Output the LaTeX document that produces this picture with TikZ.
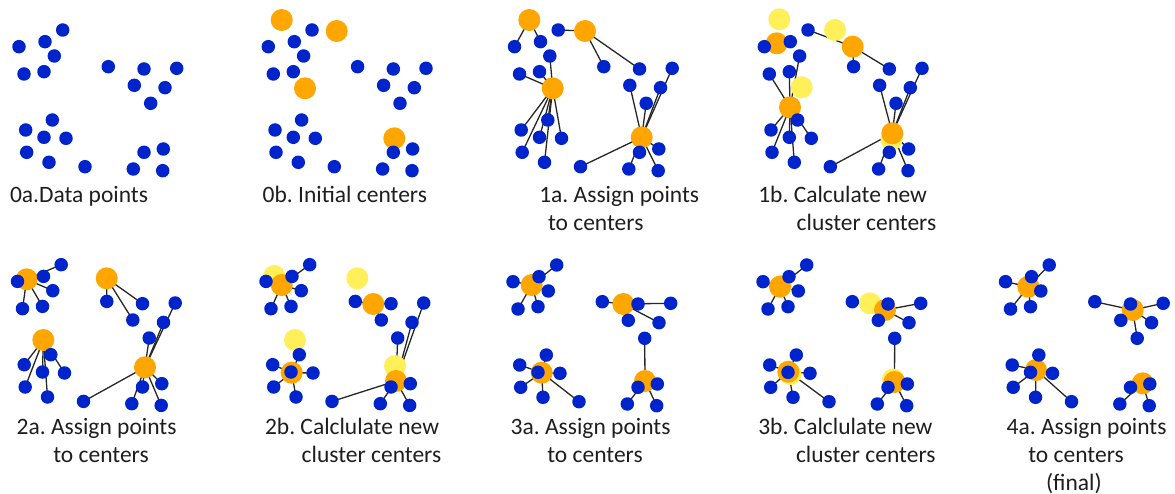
\documentclass[tikz,border=0pt]{standalone}
\usepackage{fontspec}
\setmainfont{Carlito}
\frenchspacing
\definecolor{dotblue}{RGB}{0,36,204}
\definecolor{ctrorange}{RGB}{255,166,0}
\definecolor{ctryellow}{RGB}{255,240,90}
\definecolor{txt}{RGB}{30,30,30}
\tikzset{
  dot/.style={circle,fill=dotblue,draw=none,minimum size=13.5pt,inner sep=0pt,outer sep=0pt},
  ctr/.style={circle,fill=ctrorange,draw=none,minimum size=22pt,inner sep=0pt,outer sep=0pt},
  oldctr/.style={circle,fill=ctryellow,draw=none,minimum size=22pt,inner sep=0pt,outer sep=0pt},
  link/.style={draw=black!85,line width=1.3pt},
  lbl/.style={anchor=base west,inner sep=0pt,outer sep=0pt,text=txt,font=\fontsize{23.5}{28}\selectfont}
}
% named points of one panel
\newcommand\Pts[3]{%
  \begin{scope}[shift={(#2,#3)}]
  \foreach \k/\px/\py in {1/62.7/30,2/45/41.7,3/19/46.7,4/54.3/56,5/24/74,6/44/71.7,
     7/108.3/66.7,8/144/69,9/176.7/68.3,10/134.3/85.3,11/165/87.7,12/150.7/103.3,
     13/52.3/120,14/25.7/130,15/44/137.3,16/66/138.3,17/26.7/152.3,18/49/162.3,19/85/166.7,
     20/144/152.3,21/163.3/149,22/133.3/169,23/162.7/170.7}{\coordinate (#1-\k) at (\px,\py);}
  \end{scope}}
\newcommand\Dots[1]{\foreach \k in {1,...,23}{\node[dot] (#1-d\k) at (#1-\k) {};}}
\newcommand\Links[3]{\foreach \k in {#3}{\draw[link] (#1-#2) -- (#1-\k);}}
\newcommand\Ctrs[3]{\foreach \c in {A,B,C,D}{\node[#3] (#1-#2\c) at (#1-#2\c) {};}}
\begin{document}
\begin{tikzpicture}[x=1pt,y=-1pt]
\useasboundingbox (0,0) rectangle (1175,494);

% ---- 0a
\Pts{pa}{0}{0}
\Dots{pa}
\node[lbl] (la) at (10,203) {0a.Data points};

% ---- 0b
\Pts{pb}{249.3}{0}
\begin{scope}[shift={(249.3,0)}]
\coordinate (pb-A) at (32.4,20); \coordinate (pb-B) at (87.4,31);
\coordinate (pb-C) at (55.7,88.3); \coordinate (pb-D) at (145,138.3);
\end{scope}
\Ctrs{pb}{}{ctr}
\Dots{pb}
\node[lbl] (lb) at (262.7,203) {0b. Initial centers};

% ---- 1a
\Pts{pc}{495.5}{0}
\begin{scope}[shift={(495.5,0)}]
\coordinate (pc-A) at (33.8,20); \coordinate (pc-B) at (89.5,31);
\coordinate (pc-C) at (57.2,88.3); \coordinate (pc-D) at (146.2,137.3);
\end{scope}
\Links{pc}{A}{2,3}
\Links{pc}{B}{1,7,8}
\Links{pc}{C}{4,5,6,13,14,15,16,17,18}
\Links{pc}{D}{9,10,11,12,19,20,21,22,23}
\Ctrs{pc}{}{ctr}
\Dots{pc}
\node[lbl] (lc1) at (539.3,203) {1a. Assign points};
\node[lbl] (lc2) at (548,231) {to centers};

% ---- 1b
\Pts{pd}{745.3}{0}
\begin{scope}[shift={(745.3,0)}]
\coordinate (pd-oA) at (34,19.3); \coordinate (pd-oB) at (89.7,30);
\coordinate (pd-oC) at (56.4,87.3); \coordinate (pd-oD) at (146.2,139.5);
\coordinate (pd-A) at (31.4,43.3); \coordinate (pd-B) at (107.4,46.7);
\coordinate (pd-C) at (44.7,107.3); \coordinate (pd-D) at (147,133.3);
\end{scope}
\Links{pd}{A}{2,3}
\Links{pd}{B}{1,7,8}
\Links{pd}{C}{4,5,6,13,14,15,16,17,18}
\Links{pd}{D}{9,10,11,12,19,20,21,22,23}
\Ctrs{pd}{o}{oldctr}
\Ctrs{pd}{}{ctr}
\Dots{pd}
\node[lbl] (ld1) at (758.3,203) {1b. Calculate new};
\node[lbl] (ld2) at (796.7,231) {cluster centers};

% ---- 2a
\Pts{pe}{-1.5}{234.7}
\begin{scope}[shift={(-1.5,234.7)}]
\coordinate (pe-A) at (28.2,44.6); \coordinate (pe-B) at (108.2,43.6);
\coordinate (pe-C) at (44.8,105.3); \coordinate (pe-D) at (146.5,132.6);
\end{scope}
\Links{pe}{A}{1,2,3,4,5,6}
\Links{pe}{B}{7,8,10}
\Links{pe}{C}{13,14,15,16,17,18}
\Links{pe}{D}{9,11,12,19,20,21,22,23}
\Ctrs{pe}{}{ctr}
\Dots{pe}
\node[lbl] (le1) at (16.7,434) {2a. Assign points};
\node[lbl] (le2) at (53.3,462) {to centers};

% ---- 2b
\Pts{pf}{247}{234.7}
\begin{scope}[shift={(247,234.7)}]
\coordinate (pf-oA) at (27.3,41.3); \coordinate (pf-oB) at (110.3,43.6);
\coordinate (pf-oC) at (48,105.3); \coordinate (pf-oD) at (148,131.3);
\coordinate (pf-A) at (34.7,50.3); \coordinate (pf-B) at (126.3,69.3);
\coordinate (pf-C) at (44.7,138); \coordinate (pf-D) at (149,146.3);
\end{scope}
\Links{pf}{A}{1,2,3,4,5,6}
\Links{pf}{B}{7,8,10}
\Links{pf}{C}{13,14,15,16,17,18}
\Links{pf}{D}{9,11,12,19,20,21,22,23}
\Ctrs{pf}{o}{oldctr}
\Ctrs{pf}{}{ctr}
\Dots{pf}
\node[lbl] (lf1) at (265,434) {2b. Calclulate new};
\node[lbl] (lf2) at (301.7,462) {cluster centers};

% ---- 3a
\Pts{pg}{494}{235}
\begin{scope}[shift={(494,235)}]
\coordinate (pg-A) at (37.7,50); \coordinate (pg-B) at (129.3,69);
\coordinate (pg-C) at (47.7,137.7); \coordinate (pg-D) at (151,146);
\end{scope}
\Links{pg}{A}{1,2,3,4,5,6}
\Links{pg}{B}{7,8,9,10,11}
\Links{pg}{C}{13,14,15,16,17,18,19}
\Links{pg}{D}{12,20,21,22,23}
\Ctrs{pg}{}{ctr}
\Dots{pg}
\node[lbl] (lg1) at (510.7,434) {3a. Assign points};
\node[lbl] (lg2) at (547.3,462) {to centers};

% ---- 3b
\Pts{ph}{744}{235}
\begin{scope}[shift={(744,235)}]
\coordinate (ph-oA) at (37,51); \coordinate (ph-oB) at (126,68.3);
\coordinate (ph-oC) at (46.5,139); \coordinate (ph-oD) at (149,144.5);
\coordinate (ph-A) at (36,51.7); \coordinate (ph-B) at (141,75);
\coordinate (ph-C) at (44.3,136.7); \coordinate (ph-D) at (150.5,147);
\end{scope}
\Links{ph}{A}{1,2,3,4,5,6}
\Links{ph}{B}{7,8,9,10,11}
\Links{ph}{C}{13,14,15,16,17,18,19}
\Links{ph}{D}{12,20,21,22,23}
\Ctrs{ph}{o}{oldctr}
\Ctrs{ph}{}{ctr}
\Dots{ph}
\node[lbl] (lh1) at (758.3,434) {3b. Calclulate new};
\node[lbl] (lh2) at (796,462) {cluster centers};

% ---- 4a
\Pts{pi}{986.5}{235}
\begin{scope}[shift={(986.5,235)}]
\coordinate (pi-A) at (41.8,51.7); \coordinate (pi-B) at (146.2,75);
\coordinate (pi-C) at (49.5,135); \coordinate (pi-D) at (156.2,148.3);
\end{scope}
\Links{pi}{A}{1,2,3,4,5,6}
\Links{pi}{B}{7,8,9,10,11,12}
\Links{pi}{C}{13,14,15,16,17,18,19}
\Links{pi}{D}{20,21,22,23}
\Ctrs{pi}{}{ctr}
\Dots{pi}
\node[lbl] (li1) at (1006.7,434) {4a. Assign points};
\node[lbl] (li2) at (1028.3,462) {to centers};
\node[lbl] (li3) at (1046,490) {(final)};
\end{tikzpicture}
\end{document}
